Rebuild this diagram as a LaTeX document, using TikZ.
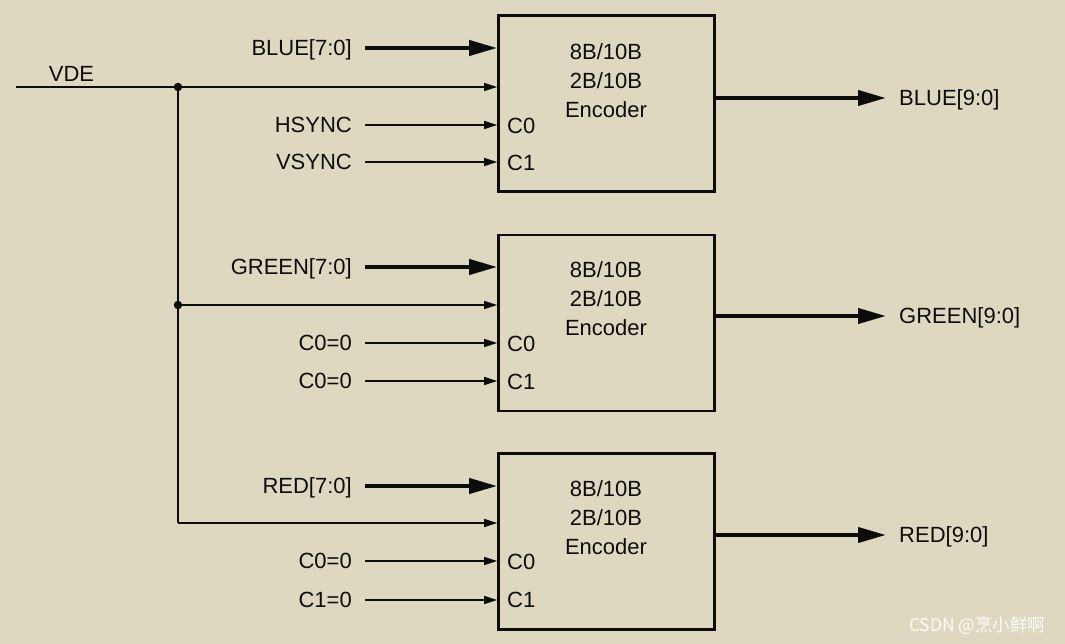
\documentclass[tikz,border=0pt]{standalone}
\usepackage{fontspec}
\setmainfont{Liberation Sans}
\newfontfamily\cjk{Noto Sans CJK SC}
\usetikzlibrary{arrows.meta}
\definecolor{bg}{RGB}{223,216,192}
\definecolor{ink}{RGB}{12,12,12}
\begin{document}
\begin{tikzpicture}[x=1pt,y=-1pt,
  font=\fontsize{22}{26}\selectfont,
  every node/.style={text=ink},
  box/.style={draw=ink, line width=2.6pt, minimum width=216pt, minimum height=176pt, inner sep=0pt},
  lab/.style={inner sep=0pt, text height=15.8pt, text depth=0pt},
  thinarr/.style={draw=ink, line width=1.6pt, -{Triangle[length=13pt,width=8pt]}},
  thickarr/.style={draw=ink, line width=4pt, -{Triangle[length=28pt,width=15pt]}},
  wire/.style={draw=ink, line width=1.6pt},
  dot/.style={circle, fill=ink, inner sep=0pt, minimum size=8.5pt}
]
\fill[bg] (0,0) rectangle (1065,644);
\useasboundingbox (0,0) rectangle (1065,644);

% boxes
\node[box] (b1) at (606.5,103.5) {};
\node[box] (b2) at (606.5,323) {};
\node[box] (b3) at (606.5,541.5) {};

% box texts
\foreach \n/\y in {1/52,2/270,3/489}{
  \node[lab] (t8b\n) at (606,\y) {8B/10B};
  \node[lab] (t2b\n) at (606,\y+28.5) {2B/10B};
  \node[lab] (ten\n) at (606,\y+57.5) {Encoder};
}
\node[lab,anchor=west] (c0a) at (507,126) {C0};
\node[lab,anchor=west] (c1a) at (507,163) {C1};
\node[lab,anchor=west] (c0b) at (507,344) {C0};
\node[lab,anchor=west] (c1b) at (507,382) {C1};
\node[lab,anchor=west] (c0c) at (507,562) {C0};
\node[lab,anchor=west] (c1c) at (507,600) {C1};

% input labels
\node[lab,anchor=east] (blue) at (352,48) {BLUE[7:0]};
\node[lab,anchor=east] (hs) at (352,125) {HSYNC};
\node[lab,anchor=east] (vs) at (352,162) {VSYNC};
\node[lab,anchor=east] (green) at (352,267) {GREEN[7:0]};
\node[lab,anchor=east] (z1) at (352,343) {C0=0};
\node[lab,anchor=east] (z2) at (352,381) {C0=0};
\node[lab,anchor=east] (red) at (352,486) {RED[7:0]};
\node[lab,anchor=east] (z3) at (352,561) {C0=0};
\node[lab,anchor=east] (z4) at (352,600) {C1=0};

% output labels
\node[lab,anchor=west] (bo) at (899,98) {BLUE[9:0]};
\node[lab,anchor=west] (go) at (899,316) {GREEN[9:0]};
\node[lab,anchor=west] (ro) at (899,535) {RED[9:0]};

% VDE
\node[lab] (vde) at (71.5,74) {VDE};
\coordinate (vin) at (16,87);
\coordinate (j1) at (178,87);
\coordinate (j2) at (178,305);
\coordinate (j3) at (178,523);

% input arrows
\draw[thickarr] ([xshift=13pt]blue.east) -- (blue.east -| b1.west);
\draw[thinarr] ([xshift=13pt]hs.east) -- (hs.east -| b1.west);
\draw[thinarr] ([xshift=13pt]vs.east) -- (vs.east -| b1.west);
\draw[thickarr] ([xshift=13pt]green.east) -- (green.east -| b2.west);
\draw[thinarr] ([xshift=13pt]z1.east) -- (z1.east -| b2.west);
\draw[thinarr] ([xshift=13pt]z2.east) -- (z2.east -| b2.west);
\draw[thickarr] ([xshift=13pt]red.east) -- (red.east -| b3.west);
\draw[thinarr] ([xshift=13pt]z3.east) -- (z3.east -| b3.west);
\draw[thinarr] ([xshift=13pt]z4.east) -- (z4.east -| b3.west);

% VDE wiring
\draw[thinarr] (vin) -- (vin -| b1.west);
\draw[wire] (j1) -- (j3);
\draw[thinarr] (j2) -- (j2 -| b2.west);
\draw[thinarr] (j3) -- (j3 -| b3.west);
\node[dot] (d1) at (j1) {};
\node[dot] (d2) at (j2) {};

% outputs
\draw[thickarr] (bo.west -| b1.east) -- ([xshift=-13pt]bo.west);
\draw[thickarr] (go.west -| b2.east) -- ([xshift=-13pt]go.west);
\draw[thickarr] (ro.west -| b3.east) -- ([xshift=-13pt]ro.west);

% watermark
\node[anchor=east, text=white!90!bg, font=\cjk\fontsize{17.5}{20}\selectfont] (wm) at (1049,626) {CSDN @烹小鲜啊};
\end{tikzpicture}
\end{document}
